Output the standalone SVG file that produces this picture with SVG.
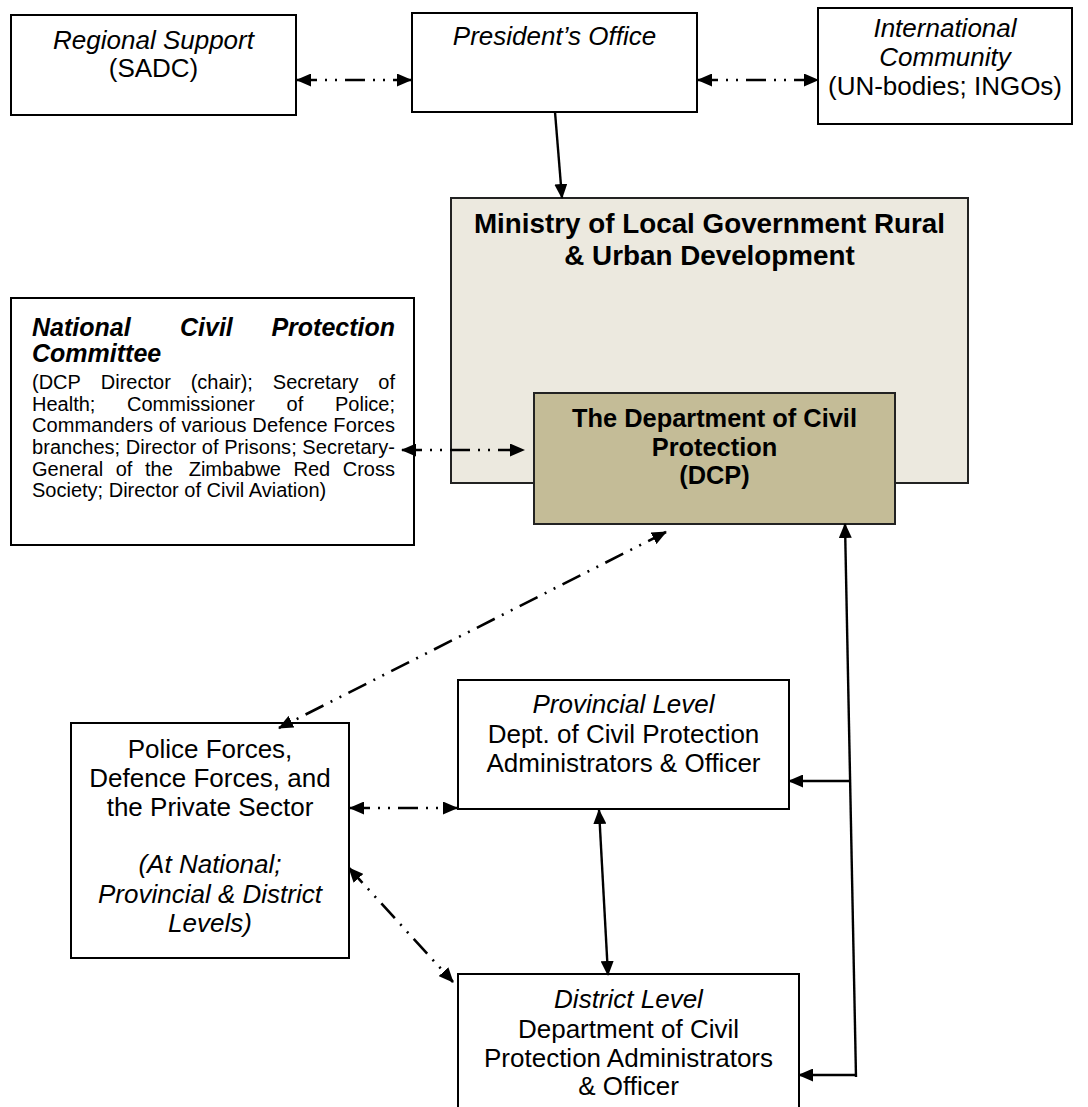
<svg xmlns="http://www.w3.org/2000/svg" width="1088" height="1107" viewBox="0 0 1088 1107">
<style>
text{font-family:"Liberation Sans",Arial,sans-serif;fill:#000}
.t{font-size:26px;text-anchor:middle}
.i{font-style:italic}
.b{font-weight:bold}
.box{fill:#fff;stroke:#000;stroke-width:2}
.body{font-size:20px}
.dd{fill:none;stroke:#000;stroke-width:2.6;stroke-dasharray:20 8 2 8 2 8;marker-start:url(#ah);marker-end:url(#ah)}
.sl{fill:none;stroke:#000;stroke-width:2.4}
</style>
<defs>
<marker id="ah" markerWidth="15" markerHeight="13" refX="14" refY="6.5" orient="auto-start-reverse" markerUnits="userSpaceOnUse">
<path d="M0,0 L15,6.5 L0,13 z" fill="#000"/>
</marker>
</defs>
<rect width="1088" height="1107" fill="#fff"/>
<g id="regional">
<rect class="box" x="11" y="15" width="285" height="100"/>
<text class="t i" x="153.5" y="49">Regional Support</text>
<text class="t" x="153.5" y="77">(SADC)</text>
</g>
<g id="president">
<rect class="box" x="412" y="13" width="285" height="99"/>
<text class="t i" x="554.5" y="45">President’s Office</text>
</g>
<g id="international">
<rect class="box" x="818" y="8" width="254" height="116"/>
<text class="t i" x="945" y="37" font-size="25">International</text>
<text class="t i" x="945" y="66" font-size="25">Community</text>
<text class="t" x="945" y="95" font-size="25">(UN-bodies; INGOs)</text>
</g>
<g id="ministry">
<rect x="451" y="198" width="517" height="285" fill="#ECE9DF" stroke="#222" stroke-width="2"/>
<text class="b" x="709.5" y="233" font-size="27.8" text-anchor="middle">Ministry of Local Government Rural</text>
<text class="b" x="709.5" y="265" font-size="27.8" text-anchor="middle">&amp; Urban Development</text>
</g>
<g id="dcp">
<rect x="534" y="393" width="361" height="131" fill="#C4BC97" stroke="#222" stroke-width="2"/>
<text class="b" x="714.5" y="427" font-size="25.4" text-anchor="middle">The Department of Civil</text>
<text class="b" x="714.5" y="456" font-size="25.4" text-anchor="middle">Protection</text>
<text class="b" x="714.5" y="484" font-size="25.4" text-anchor="middle">(DCP)</text>
</g>
<g id="ncpc">
<rect class="box" x="11" y="298" width="403" height="247"/>
<g class="b i" font-size="25">
<text x="32" y="336">National</text>
<text x="180" y="336">Civil</text>
<text x="395" y="336" text-anchor="end">Protection</text>
<text x="32" y="362">Committee</text>
</g>
<g class="body">
<text x="32" y="389">(DCP</text>
<text x="100.8" y="389">Director</text>
<text x="190.7" y="389">(chair);</text>
<text x="272.8" y="389">Secretary</text>
<text x="395" y="389" text-anchor="end">of</text>
<text x="32" y="411">Health;</text>
<text x="127" y="411">Commissioner</text>
<text x="286.6" y="411">of</text>
<text x="395" y="411" text-anchor="end">Police;</text>
<text x="32" y="432" textLength="363" lengthAdjust="spacing">Commanders of various Defence Forces</text>
<text x="32" y="454" textLength="363" lengthAdjust="spacing">branches; Director of Prisons; Secretary-</text>
<text x="32" y="476">General</text>
<text x="115.7" y="476">of</text>
<text x="145" y="476">the</text>
<text x="188.7" y="476">Zimbabwe</text>
<text x="293.5" y="476">Red</text>
<text x="395" y="476" text-anchor="end">Cross</text>
<text x="32" y="497">Society; Director of Civil Aviation)</text>
</g>
</g>
<g id="police">
<rect class="box" x="71" y="723" width="278" height="235"/>
<text class="t" x="210" y="758">Police Forces,</text>
<text class="t" x="210" y="787">Defence Forces, and</text>
<text class="t" x="210" y="816">the Private Sector</text>
<text class="t i" x="210" y="873">(At National;</text>
<text class="t i" x="210" y="903">Provincial &amp; District</text>
<text class="t i" x="210" y="932">Levels)</text>
</g>
<g id="provincial">
<rect class="box" x="458" y="680" width="331" height="129"/>
<text class="t i" x="623.5" y="713">Provincial Level</text>
<text class="t" x="623.5" y="743">Dept. of Civil Protection</text>
<text class="t" x="623.5" y="772">Administrators &amp; Officer</text>
</g>
<g id="district">
<rect class="box" x="458" y="974" width="341" height="140"/>
<text class="t i" x="628.5" y="1008">District Level</text>
<text class="t" x="628.5" y="1038">Department of Civil</text>
<text class="t" x="628.5" y="1067">Protection Administrators</text>
<text class="t" x="628.5" y="1095">&amp; Officer</text>
</g>
<g id="connectors">
<line class="dd" x1="297" y1="80" x2="411" y2="80"/>
<line class="dd" x1="698" y1="80" x2="818" y2="80"/>
<line class="sl" x1="555" y1="112" x2="562" y2="198" marker-end="url(#ah)"/>
<line class="dd" x1="402" y1="450" x2="524" y2="450"/>
<line class="dd" x1="666" y1="532" x2="279" y2="728"/>
<line class="dd" x1="350" y1="808" x2="457" y2="808"/>
<line class="dd" x1="349" y1="868" x2="453" y2="982"/>
<line class="sl" x1="599" y1="810" x2="608" y2="975" marker-start="url(#ah)" marker-end="url(#ah)"/>
<line class="sl" x1="856" y1="1077" x2="845" y2="524" marker-end="url(#ah)"/>
<line class="sl" x1="850" y1="781" x2="789" y2="781" marker-end="url(#ah)"/>
<line class="sl" x1="856" y1="1075" x2="799" y2="1075" marker-end="url(#ah)"/>
</g>
</svg>
